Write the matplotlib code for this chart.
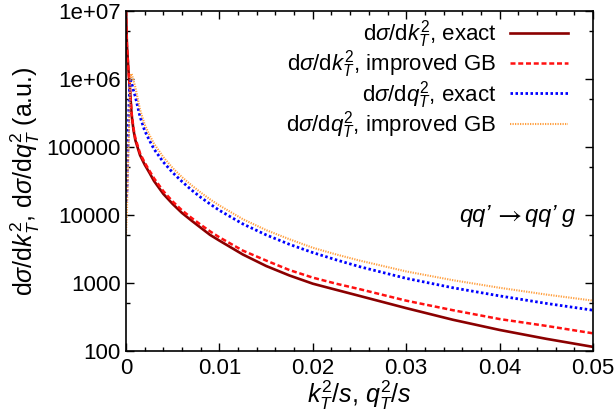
import matplotlib
matplotlib.use("Agg")
import matplotlib.pyplot as plt
from matplotlib.ticker import FixedLocator, MultipleLocator

plt.rcParams['font.family'] = ['Liberation Sans', 'DejaVu Sans']
plt.rcParams['mathtext.fontset'] = 'custom'
plt.rcParams['mathtext.rm'] = 'Liberation Sans'
plt.rcParams['mathtext.it'] = 'Liberation Sans:italic'
plt.rcParams['mathtext.bf'] = 'Liberation Sans:bold'

# k_T curves
x_k = [0, 0.0001, 0.00025, 0.0004, 0.0006, 0.0008, 0.001, 0.0015, 0.002, 0.0025,
       0.003, 0.004, 0.005, 0.006, 0.007, 0.008, 0.009, 0.01, 0.0125, 0.015,
       0.0175, 0.02, 0.0225, 0.025, 0.03, 0.035, 0.04, 0.045, 0.05]
k_exact = [1e7, 3.16e6, 1.41e6, 7.9e5, 3.0e5, 1.78e5, 1.26e5, 7.6e4, 5.5e4, 4.2e4,
           3.16e4, 2.04e4, 1.45e4, 1.07e4, 8.3e3, 6.5e3, 5.1e3, 4.2e3, 2.63e3, 1.78e3,
           1.29e3, 977, 794, 646, 427, 288, 204, 151, 115]
k_gb = [1e7, 3.16e6, 1.41e6, 7.9e5, 3.16e5, 1.9e5, 1.35e5, 8.1e4, 5.9e4, 4.5e4,
        3.47e4, 2.24e4, 1.58e4, 1.17e4, 9.1e3, 7.2e3, 5.75e3, 4.7e3, 3.0e3, 2.14e3,
        1.55e3, 1.2e3, 977, 813, 550, 398, 295, 234, 182]

# q_T curves
x_q = [0, 0.0001, 0.0002, 0.0003, 0.0004, 0.0005, 0.0006, 0.0008, 0.001, 0.0015,
       0.002, 0.0025, 0.003, 0.004, 0.005, 0.006, 0.007, 0.008, 0.009, 0.01,
       0.0125, 0.015, 0.0175, 0.02, 0.0225, 0.025, 0.03, 0.035, 0.04, 0.045, 0.05]
q_exact = [1.58e4, 2.24e4, 8.9e4, 3.55e5, 8.3e5, 9.5e5, 8.9e5, 6.8e5, 5.5e5, 2.8e5,
           1.74e5, 1.26e5, 9.3e4, 6.0e4, 4.2e4, 3.1e4, 2.34e4, 1.82e4, 1.45e4, 1.17e4,
           7.4e3, 5.1e3, 3.7e3, 2.8e3, 2.19e3, 1.74e3, 1.17e3, 851, 646, 501, 398]
q_gb = [5.0e3, 1.12e4, 4.0e4, 1.41e5, 5.0e5, 1.12e6, 1.2e6, 9.5e5, 7.6e5, 3.55e5,
        2.14e5, 1.51e5, 1.12e5, 7.1e4, 4.9e4, 3.6e4, 2.75e4, 2.14e4, 1.7e4, 1.38e4,
        8.7e3, 6.0e3, 4.4e3, 3.3e3, 2.63e3, 2.14e3, 1.48e3, 1.1e3, 851, 676, 550]

x_ticks = [0, 0.01, 0.02, 0.03, 0.04, 0.05]
x_ticklabels = ['0', '0.01', '0.02', '0.03', '0.04', '0.05']
y_ticks = [100, 1000, 10000, 100000, 1e6, 1e7]
y_ticklabels = ['100', '1000', '10000', '100000', '1e+06', '1e+07']
y_minor = [500, 5000, 50000, 500000, 5e6]

fig = plt.figure(figsize=(6.16, 4.19), dpi=100)
ax = fig.add_axes([126/616, 1-351/419, (593-126)/616, (351-11)/419])

ax.plot(x_k, k_exact, color='#8b0000', lw=1.9, ls='-',
        label=r'd$\sigma$/d$k_T^2$, exact')
ax.plot(x_k, k_gb, color='#ff1010', lw=1.8, ls=(0, (2.0, 1.1)),
        label=r'd$\sigma$/d$k_T^2$, improved GB')
ax.plot(x_q, q_exact, color='#0000ff', lw=2.0, ls=(0, (0.9, 0.9)),
        label=r'd$\sigma$/d$q_T^2$, exact')
ax.plot(x_q, q_gb, color='#ffa040', lw=1.5, ls=(0, (0.6, 0.6)),
        label=r'd$\sigma$/d$q_T^2$, improved GB')

ax.set_yscale('log')
ax.set_xlim(0, 0.05)
ax.set_ylim(100, 1e7)
ax.xaxis.set_major_locator(FixedLocator(x_ticks))
ax.set_xticklabels(x_ticklabels)
ax.xaxis.set_minor_locator(MultipleLocator(0.002))
ax.yaxis.set_major_locator(FixedLocator(y_ticks))
ax.set_yticklabels(y_ticklabels)
ax.yaxis.set_minor_locator(FixedLocator(y_minor))
ax.yaxis.set_minor_formatter(plt.NullFormatter())

ax.tick_params(which='both', direction='in', top=True, right=True, labelsize=16,
               width=1, colors='black')
ax.tick_params(which='major', length=6)
ax.tick_params(which='minor', length=3)
ax.tick_params(axis='x', pad=5)
ax.tick_params(axis='y', pad=4)
for s in ax.spines.values():
    s.set_linewidth(1.2)

ax.set_xlabel(r'$k_T^2/s$, $q_T^2/s$', fontsize=18, labelpad=0)
ax.set_ylabel(r'd$\sigma$/d$k_T^2$, d$\sigma$/d$q_T^2$ (a.u.)', fontsize=18, labelpad=3)

leg = ax.legend(loc='upper right', frameon=False, markerfirst=False, fontsize=16,
                handlelength=2.6, handletextpad=0.63, labelspacing=-0.07,
                borderpad=0, borderaxespad=0,
                bbox_to_anchor=((568-126)/467, (351-18)/340))

# process label: qq' -> qq' g (thin STIX arrow)
t_right = ax.text((575-126)/467, 0.40, "qq’ g", transform=ax.transAxes,
                  ha='right', va='center', fontsize=17, fontstyle='italic')
t_arrow = ax.annotate(r"$\rightarrow$", xy=(0, 0.5), xycoords=t_right, xytext=(-1.5, 0.5),
                      textcoords='offset points', ha='right', va='center',
                      fontsize=19, math_fontfamily='stix')
ax.annotate("qq’", xy=(0, 0.5), xycoords=t_arrow, xytext=(-3.0, -0.5),
            textcoords='offset points', ha='right', va='center',
            fontsize=17, fontstyle='italic')

fig.savefig('out.png', dpi=100)
